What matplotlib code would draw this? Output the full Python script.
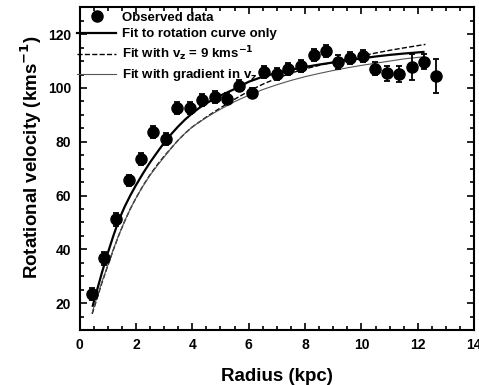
import numpy as np
import matplotlib.pyplot as plt
from matplotlib.ticker import MultipleLocator

plt.rcParams['font.family'] = ['Liberation Sans', 'DejaVu Sans']
plt.rcParams['font.weight'] = 'bold'
plt.rcParams['mathtext.default'] = 'bf'

# observed rotation curve
radius = [0.43, 0.87, 1.31, 1.74, 2.17, 2.62, 3.05, 3.47, 3.93, 4.36,
          4.80, 5.24, 5.67, 6.11, 6.55, 6.99, 7.41, 7.85, 8.30, 8.73,
          9.17, 9.60, 10.04, 10.48, 10.91, 11.35, 11.78, 12.22, 12.66]
velocity = [23.4, 36.6, 51.1, 65.7, 73.6, 83.6, 81.1, 92.5, 92.5, 95.4,
            96.6, 96.0, 100.9, 98.1, 106.0, 105.3, 107.2, 108.1, 112.2, 113.7,
            109.7, 111.2, 111.8, 107.2, 105.4, 105.2, 107.8, 109.8, 104.6]
vel_err = [2.3, 2.3, 2.3, 2.0, 2.2, 2.2, 2.2, 2.3, 2.2, 2.2,
           2.2, 2.0, 2.0, 2.0, 2.2, 2.2, 2.2, 2.2, 2.2, 2.2,
           2.5, 2.2, 2.2, 2.4, 2.8, 2.8, 5.0, 2.9, 6.3]

# fit to rotation curve only
fit_r = [0.47, 0.6, 0.8, 1.0, 1.2, 1.4, 1.6, 1.8, 2.0, 2.25, 2.5, 2.75, 3.0,
         3.25, 3.5, 3.75, 4.0, 4.25, 4.5, 4.75, 5.0, 5.5, 6.0, 6.5, 7.0, 7.5,
         8.0, 8.5, 9.0, 9.5, 10.0, 10.5, 11.0, 11.5, 12.2]
fit_v = [19.0, 24.0, 31.5, 38.5, 45.0, 51.0, 55.8, 60.0, 63.8, 68.2, 72.3, 76.0, 79.6,
         82.8, 85.7, 88.3, 90.6, 92.6, 94.3, 95.8, 97.2, 99.6, 102.3, 104.2, 105.6, 106.8,
         107.8, 108.7, 109.5, 110.3, 111.0, 111.7, 112.3, 112.8, 113.4]

# fit with vz = 9 km/s
vz_r = [0.45, 0.6, 0.8, 1.0, 1.2, 1.4, 1.6, 1.8, 2.0, 2.25, 2.5, 2.75, 3.0,
        3.25, 3.5, 3.75, 4.0, 4.5, 5.0, 5.5, 6.0, 6.5, 7.0, 7.5, 8.0, 8.5,
        9.0, 9.5, 10.0, 10.5, 11.0, 11.5, 12.27]
vz_v = [16.0, 21.0, 27.7, 33.8, 39.8, 45.4, 50.4, 55.0, 59.0, 63.6, 67.7, 71.3, 74.6,
        77.6, 80.6, 83.2, 85.5, 89.2, 92.6, 95.8, 98.8, 101.4, 103.6, 105.5, 107.1, 108.4,
        109.6, 110.8, 111.9, 113.0, 114.0, 114.9, 116.2]

# fit with gradient in vz
grad_r = [0.45, 0.6, 0.8, 1.0, 1.2, 1.4, 1.6, 1.8, 2.0, 2.25, 2.5, 2.75, 3.0,
          3.25, 3.5, 3.75, 4.0, 4.25, 4.5, 4.75, 5.0, 5.5, 6.0, 6.5, 7.0, 7.5,
          8.0, 8.5, 9.0, 9.5, 10.0, 10.5, 11.0, 11.5, 12.2]
grad_v = [16.5, 21.5, 28.0, 34.0, 40.0, 45.5, 50.5, 55.0, 59.0, 63.5, 67.5, 71.0, 74.3,
          77.6, 80.6, 83.2, 85.5, 87.3, 89.0, 90.6, 92.1, 94.9, 97.3, 99.4, 101.2, 102.8,
          104.2, 105.4, 106.5, 107.5, 108.4, 109.2, 110.0, 110.8, 111.6]

fig = plt.figure(figsize=(4.79, 3.85), dpi=100)
ax = fig.add_axes([0.166, 0.143, 0.824, 0.838])

ax.errorbar(radius, velocity, yerr=vel_err, fmt='none', ecolor='black',
            elinewidth=1.3, capsize=2.5, capthick=1.3, zorder=3)
h_obs, = ax.plot(radius, velocity, 'o', color='black', ms=8, zorder=4,
                 label='Observed data')
h_fit, = ax.plot(fit_r, fit_v, '-', color='black', lw=1.6,
                 label='Fit to rotation curve only')
h_vz, = ax.plot(vz_r, vz_v, '--', color='black', lw=1.0,
                label='Fit with v$_z$ = 9 kms$^{-1}$')
h_grad, = ax.plot(grad_r, grad_v, '-', color='#555555', lw=0.8,
                  label='Fit with gradient in v$_z$')

ax.set_xlim(0, 14)
ax.set_ylim(10, 130)
ax.xaxis.set_major_locator(MultipleLocator(2))
ax.xaxis.set_minor_locator(MultipleLocator(0.5))
ax.yaxis.set_major_locator(MultipleLocator(20))
ax.yaxis.set_minor_locator(MultipleLocator(5))
ax.tick_params(which='both', direction='in', top=True, right=True, width=1.2)
ax.tick_params(which='major', length=5, labelsize=10, pad=6)
ax.tick_params(which='minor', length=3)
for s in ax.spines.values():
    s.set_linewidth(1.5)

ax.set_xlabel('Radius (kpc)', fontsize=13.5, fontweight='bold', labelpad=11)
ax.set_ylabel('Rotational velocity (kms$^{-1}$)', fontsize=13.5, fontweight='bold')
ax.yaxis.set_label_coords(-0.09, 0.535)

ax.legend(handles=[h_obs, h_fit, h_vz, h_grad], loc='upper left',
          bbox_to_anchor=(-0.012, 0.995), frameon=False,
          handlelength=2.9, handletextpad=0.5, borderaxespad=0, borderpad=0.2,
          labelspacing=0.32, prop={'weight': 'bold', 'size': 9.5})

fig.savefig('out.png', dpi=100)
